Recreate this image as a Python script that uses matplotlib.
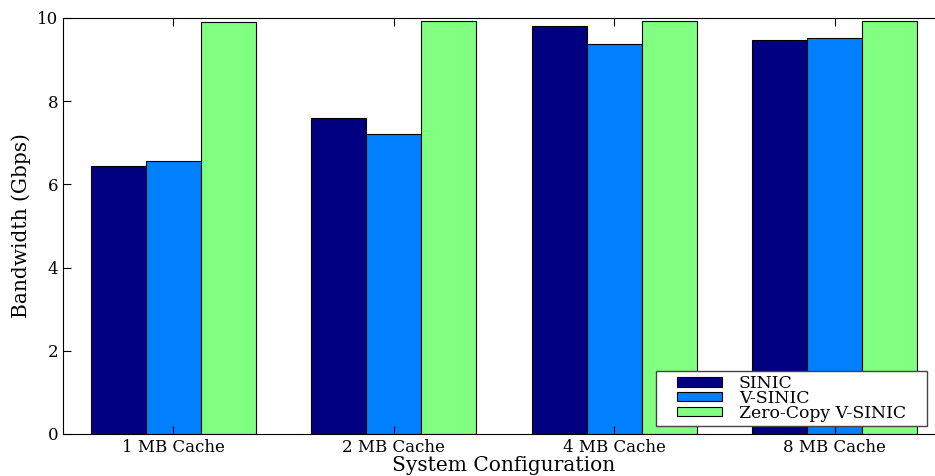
import matplotlib
matplotlib.use("Agg")
import matplotlib.pyplot as plt
import numpy as np
from matplotlib.path import Path

# ------------------------------------------------------------
# Daten
# ------------------------------------------------------------
configs = ["1 MB Cache", "2 MB Cache", "4 MB Cache", "8 MB Cache"]
series_names = ["SINIC", "V-SINIC", "Zero-Copy V-SINIC"]
sinic = [6.44, 7.60, 9.81, 9.47]
v_sinic = [6.56, 7.21, 9.37, 9.51]
zero_copy = [9.90, 9.93, 9.93, 9.93]
colors = ["#000080", "#0080ff", "#80ff80"]

plt.rcParams["font.family"] = ["DejaVu Serif"]


def wide_box(x0, y0, width, height, mutation_size):
    # Legendenrahmen: links/rechts breiter als oben/unten
    padx = 1.0 * mutation_size
    x1, y1 = x0 + width + padx, y0 + height
    x0 = x0 - padx
    return Path([(x0, y0), (x1, y0), (x1, y1), (x0, y1), (x0, y0)], closed=True)


fig = plt.figure(figsize=(9.35, 4.76), dpi=100)
ax = fig.add_axes([63 / 935, 1 - 434 / 476, 882 / 935, 416 / 476])

x = np.arange(len(configs))
width = 0.25
for i, (vals, name, col) in enumerate(zip([sinic, v_sinic, zero_copy], series_names, colors)):
    ax.bar(x + (i - 1) * width, vals, width, color=col, edgecolor="black",
           linewidth=0.8, label=name)

ax.set_xlim(-0.5, 3.5)
ax.set_ylim(0, 10)
ax.set_xticks(x)
ax.set_xticklabels(configs, fontsize=12)
ax.set_yticks([0, 2, 4, 6, 8, 10])
ax.tick_params(axis="y", labelsize=12)
ax.tick_params(direction="in", top=True, right=True, length=6)
ax.set_xlabel("System Configuration", fontsize=14.5, labelpad=0)
ax.set_ylabel("Bandwidth (Gbps)", fontsize=14.5)

leg = ax.legend(loc="lower right", bbox_to_anchor=(0.960, 0.02), fontsize=12.4,
                fancybox=False, framealpha=1, borderpad=0.22, labelspacing=-0.12,
                handlelength=2.56, handleheight=0.45, handletextpad=1.0,
                borderaxespad=0)
frame = leg.get_frame()
frame.set_boxstyle(wide_box)
frame.set_edgecolor("#444444")

fig.savefig("out.png", dpi=100)
